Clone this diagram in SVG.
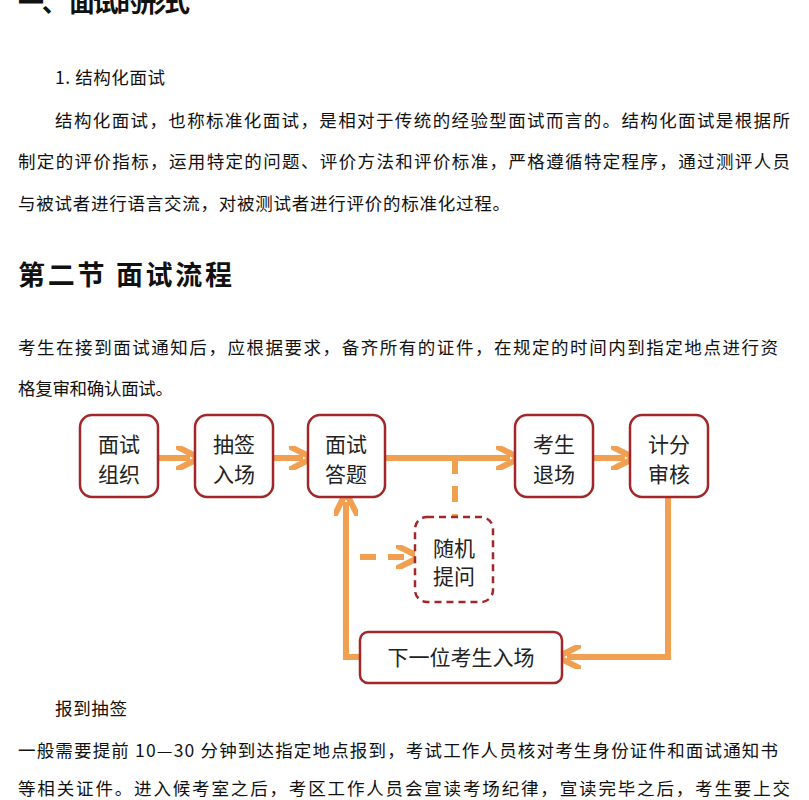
<svg xmlns="http://www.w3.org/2000/svg" width="809" height="800" viewBox="0 0 809 800">
<style>
.t{font-family:"Noto Sans CJK SC","Liberation Serif",serif;fill:#111;font-size:17.5px}
.h{font-family:"Noto Sans CJK SC",sans-serif;font-weight:bold;fill:#111}
.n{fill:#fff;stroke:#a3262a;stroke-width:2.5}
.nt{font-family:"Noto Sans CJK SC",sans-serif;font-size:21px;fill:#222;text-anchor:middle}
.c{stroke:#f0a050;stroke-width:6;fill:none}
</style>
<defs><marker id="a" viewBox="0 0 10 10" refX="6" refY="5" markerWidth="4" markerHeight="4" orient="auto"><path d="M0,0 L10,5 L0,10" fill="none" stroke="#f0a050" stroke-width="2.5"/></marker></defs>
<rect width="809" height="800" fill="#fff"/>
<text class="h" x="18" y="12" font-size="26" textLength="172">一、 面试的形式</text>
<text class="t" x="55" y="84" textLength="110">1. 结构化面试</text>
<text class="t" x="55" y="127" textLength="735">结构化面试，也称标准化面试，是相对于传统的经验型面试而言的。结构化面试是根据所</text>
<text class="t" x="18" y="168" textLength="772">制定的评价指标，运用特定的问题、评价方法和评价标准，严格遵循特定程序，通过测评人员</text>
<text class="t" x="18" y="210" textLength="492">与被试者进行语言交流，对被测试者进行评价的标准化过程。</text>
<text class="h" x="18" y="285" font-size="27" textLength="214">第二节  面试流程</text>
<text class="t" x="18" y="354" textLength="760">考生在接到面试通知后，应根据要求，备齐所有的证件，在规定的时间内到指定地点进行资</text>
<text class="t" x="18" y="395" textLength="155">格复审和确认面试。</text>
<g id="connectors">
<line class="c" x1="158" y1="458" x2="190" y2="458" marker-end="url(#a)"/>
<line class="c" x1="273" y1="458" x2="303" y2="458" marker-end="url(#a)"/>
<line class="c" x1="385" y1="458" x2="510" y2="458" marker-end="url(#a)"/>
<line class="c" x1="593" y1="458" x2="625" y2="458" marker-end="url(#a)"/>
<line class="c" x1="455" y1="458" x2="455" y2="517" stroke-dasharray="16,12"/>
<line class="c" x1="360" y1="557" x2="410" y2="557" stroke-dasharray="16,12" marker-end="url(#a)"/>
<polyline class="c" points="668,497 668,657 567,657" marker-end="url(#a)"/>
<polyline class="c" points="360,657 346,657 346,502" marker-end="url(#a)"/>
</g>
<g id="n1"><rect class="n" x="80" y="415" width="78" height="82" rx="12"/><text class="nt" x="119" y="452">面试</text><text class="nt" x="119" y="482">组织</text></g>
<g id="n2"><rect class="n" x="195" y="415" width="78" height="82" rx="12"/><text class="nt" x="234" y="452">抽签</text><text class="nt" x="234" y="482">入场</text></g>
<g id="n3"><rect class="n" x="308" y="415" width="77" height="82" rx="12"/><text class="nt" x="346" y="452">面试</text><text class="nt" x="346" y="482">答题</text></g>
<g id="n4"><rect class="n" x="515" y="415" width="78" height="82" rx="12"/><text class="nt" x="554" y="452">考生</text><text class="nt" x="554" y="482">退场</text></g>
<g id="n5"><rect class="n" x="630" y="415" width="78" height="82" rx="12"/><text class="nt" x="669" y="452">计分</text><text class="nt" x="669" y="482">审核</text></g>
<g id="n6"><rect class="n" x="415" y="517" width="78" height="85" rx="12" stroke-dasharray="7,5"/><text class="nt" x="454" y="556" fill="#2a3a5a">随机</text><text class="nt" x="454" y="584" fill="#2a3a5a">提问</text></g>
<g id="n7"><rect class="n" x="360" y="632" width="202" height="51" rx="8"/><text class="nt" x="461" y="665">下一位考生入场</text></g>
<text class="t" x="55" y="715" textLength="72">报到抽签</text>
<text class="t" x="18" y="757" textLength="760">一般需要提前 10—30 分钟到达指定地点报到，考试工作人员核对考生身份证件和面试通知书</text>
<text class="t" x="18" y="795" textLength="772">等相关证件。进入候考室之后，考区工作人员会宣读考场纪律，宣读完毕之后，考生要上交</text>
</svg>
